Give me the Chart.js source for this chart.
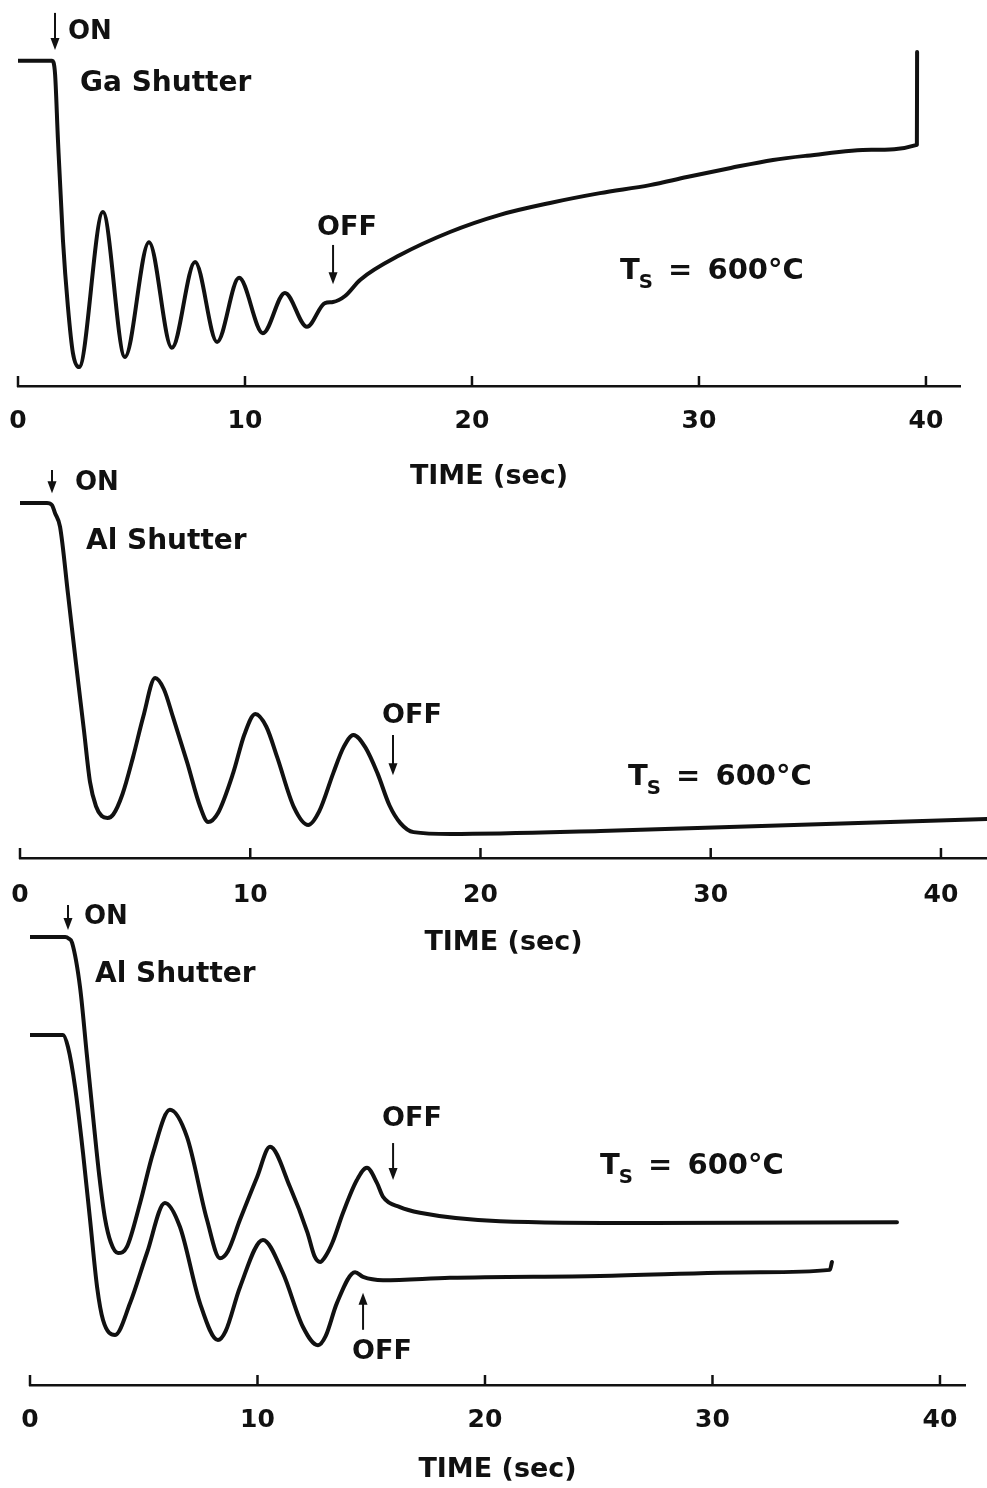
<!DOCTYPE html>
<html><head><meta charset="utf-8">
<script src="https://cdn.jsdelivr.net/npm/chart.js@4"></script>
<style>
body{margin:0;background:#fff;width:987px;height:1488px;position:relative;overflow:hidden;font-family:"DejaVu Sans",sans-serif;}
canvas{position:absolute;left:0;}
.t{position:absolute;font-weight:bold;color:#111;white-space:nowrap;line-height:1;transform:translate(0,-50%);}
.c{transform:translate(-50%,-50%);}
.t sub{font-size:0.68em;vertical-align:-0.45em;margin-left:-1px;}
</style></head><body>
<canvas id="c1" width="987" height="493" style="top:0px"></canvas>
<canvas id="c2" width="987" height="489" style="top:470px"></canvas>
<canvas id="c3" width="987" height="581" style="top:905px"></canvas>

<div class="t" style="left:68px;top:30px;font-size:26px">ON</div>
<div class="t" style="left:80px;top:82px;font-size:28px">Ga Shutter</div>
<div class="t c" style="left:347px;top:225px;font-size:27px">OFF</div>
<div class="t" style="left:620px;top:273px;font-size:29px;word-spacing:5px">T<sub>S</sub> = 600°C</div>

<div class="t" style="left:75px;top:481px;font-size:26px">ON</div>
<div class="t" style="left:86px;top:540px;font-size:28px">Al Shutter</div>
<div class="t c" style="left:412px;top:713px;font-size:27px">OFF</div>
<div class="t" style="left:628px;top:779px;font-size:29px;word-spacing:5px">T<sub>S</sub> = 600°C</div>

<div class="t" style="left:84px;top:915px;font-size:26px">ON</div>
<div class="t" style="left:95px;top:973px;font-size:28px">Al Shutter</div>
<div class="t c" style="left:412px;top:1116px;font-size:27px">OFF</div>
<div class="t" style="left:600px;top:1168px;font-size:29px;word-spacing:5px">T<sub>S</sub> = 600°C</div>
<div class="t c" style="left:382px;top:1349px;font-size:27px">OFF</div>

<script>
// ---- Data (time in s, intensity in arbitrary units) ----
const xTickValues = [0, 10, 20, 30, 40];

// Panel 1: Ga shutter
const timeGa = [0, 1.50, 1.63, 1.76, 1.98, 2.20, 2.42, 2.69, 3.74, 4.71, 5.77, 6.78, 7.80, 8.77, 9.74, 10.79, 11.76, 12.73, 13.52, 13.88, 14.41, 15.07, 16.83, 19.03, 21.23, 23.44, 25.64, 27.84, 29.47, 31.40, 33.26, 34.76, 37.60, 39.60, 39.61];
const intensityGa = [92.9, 92.9, 89.4, 70.3, 41.7, 22.6, 9.4, 5.4, 49.7, 8.3, 41.1, 10.9, 35.4, 12.6, 30.9, 15.1, 26.6, 16.9, 23.7, 24.0, 25.7, 30.3, 37.4, 44.0, 48.9, 52.3, 55.1, 57.4, 59.7, 62.3, 64.6, 65.8, 67.5, 68.9, 95.4];

// Panel 2: Al shutter
const timeAl = [0, 1.17, 1.39, 1.52, 1.74, 2.09, 2.43, 2.78, 3.04, 3.30, 3.55, 3.80, 4.05, 4.45, 4.91, 5.35, 5.87, 6.25, 6.65, 7.26, 7.83, 8.17, 8.60, 9.26, 9.75, 10.22, 10.70, 11.17, 11.90, 12.52, 13.00, 13.61, 14.05, 14.48, 15.00, 15.52, 16.05, 16.52, 17.09, 18.70, 25.22, 33.61, 42.0];
const intensityAl = [94.7, 94.7, 94.1, 92.0, 88.3, 70.1, 52.0, 33.9, 20.3, 13.8, 11.2, 10.7, 11.6, 17.0, 26.9, 37.6, 48.0, 45.0, 37.5, 25.5, 13.6, 9.6, 12.0, 22.7, 33.0, 38.4, 35.0, 26.9, 13.5, 8.8, 12.5, 22.7, 29.5, 32.8, 29.5, 22.7, 14.0, 9.3, 6.9, 6.4, 7.2, 8.8, 10.4];

// Panel 3: Al shutter, two runs
const timeUpper = [0, 1.55, 1.70, 1.85, 2.20, 2.50, 2.80, 3.05, 3.30, 3.55, 3.87, 4.26, 4.84, 5.41, 6.15, 6.90, 7.78, 8.35, 8.70, 9.23, 9.98, 10.55, 11.43, 12.20, 12.50, 12.75, 13.00, 13.30, 13.76, 14.37, 14.81, 15.25, 15.52, 16.26, 17.14, 20.66, 27.25, 38.11];
const intensityUpper = [95.7, 95.7, 95.4, 94.5, 85.0, 70.5, 56.0, 44.5, 35.5, 30.5, 28.2, 29.5, 38.9, 49.6, 58.8, 53.0, 35.3, 27.1, 28.6, 35.3, 44.4, 50.9, 42.3, 32.5, 27.6, 26.3, 27.6, 30.5, 36.8, 43.8, 46.4, 43.2, 40.2, 38.0, 36.8, 35.0, 34.6, 34.8];
const timeLower = [0, 1.45, 1.67, 1.98, 2.33, 2.64, 2.95, 3.21, 3.74, 4.40, 5.14, 5.93, 6.59, 7.47, 8.26, 8.60, 9.23, 10.24, 11.12, 12.00, 12.66, 13.00, 13.49, 14.29, 14.64, 15.52, 18.46, 25.05, 32.09, 35.16, 35.25];
const intensityLower = [74.8, 74.8, 72.2, 63.7, 49.6, 35.3, 20.9, 13.9, 10.7, 17.5, 28.2, 38.9, 33.8, 17.5, 9.6, 11.5, 20.9, 31.0, 23.9, 12.4, 8.5, 10.5, 17.5, 24.1, 23.1, 22.4, 22.9, 23.3, 24.1, 24.6, 26.3];

// Shutter event arrows (time, from-intensity, to-intensity)
const arrowsGa = [{t: 1.63, from: 106.6, to: 96.0}, {t: 13.88, from: 40.3, to: 29.1}];
const arrowsAl = [{t: 1.39, from: 107.5, to: 97.3}, {t: 16.2, from: 32.8, to: 22.1}];
const arrowsAl2 = [{t: 1.67, from: 105.1, to: 97.2}, {t: 15.96, from: 51.7, to: 43.8}, {t: 14.64, from: 11.8, to: 19.7}];

const INK = '#111';
const pts = (xs, ys) => xs.map((x, i) => ({x, y: ys[i]}));

const markPlugin = {
  id: 'marks',
  afterDraw(chart, args, opts) {
    const {ctx, scales: {x, y}} = chart;
    ctx.save();
    ctx.strokeStyle = INK; ctx.fillStyle = INK; ctx.lineWidth = 2.5;
    x.ticks.forEach(tk => {
      const px = x.getPixelForValue(tk.value);
      ctx.beginPath(); ctx.moveTo(px, x.top + 1); ctx.lineTo(px, x.top - opts.len); ctx.stroke();
    });
    ctx.lineWidth = 2;
    (opts.arrows || []).forEach(a => {
      const px = x.getPixelForValue(a.t);
      const y1 = y.getPixelForValue(a.from), y2 = y.getPixelForValue(a.to);
      const dir = y2 > y1 ? 1 : -1;
      ctx.beginPath(); ctx.moveTo(px, y1); ctx.lineTo(px, y2 - dir * 8); ctx.stroke();
      ctx.beginPath(); ctx.moveTo(px - 4.5, y2 - dir * 12); ctx.lineTo(px + 4.5, y2 - dir * 12); ctx.lineTo(px, y2); ctx.closePath(); ctx.fill();
    });
    ctx.restore();
  }
};

function makeChart(id, datasets, cfg) {
  return new Chart(document.getElementById(id), {
    type: 'line',
    data: {datasets},
    options: {
      responsive: false, animation: false, devicePixelRatio: 1,
      layout: {padding: {left: cfg.left, right: cfg.right, top: cfg.top, bottom: 0}},
      plugins: {legend: {display: false}, tooltip: {enabled: false}, marks: {len: 10, arrows: cfg.arrows}},
      elements: {point: {radius: 0}, line: {borderWidth: 4, borderColor: INK, cubicInterpolationMode: 'monotone', borderCapStyle: 'round', borderJoinStyle: 'round'}},
      scales: {
        x: {
          type: 'linear', min: 0, max: cfg.max,
          afterBuildTicks: s => { s.ticks = xTickValues.map(v => ({value: v})); },
          grid: {display: false, drawTicks: false},
          border: {display: true, color: INK, width: 2.5},
          ticks: {stepSize: 10, includeBounds: false, padding: 8, color: INK, maxRotation: 0, autoSkip: false,
                  font: {family: 'DejaVu Sans', weight: 'bold', size: 25, lineHeight: cfg.lh}},
          title: {display: true, text: 'TIME (sec)', color: INK, font: {family: 'DejaVu Sans', weight: 'bold', size: 27},
                  padding: {top: cfg.titlePad, bottom: 0}}
        },
        y: {display: false, min: 0, max: 100}
      }
    },
    plugins: [markPlugin]
  });
}

makeChart('c1', [{data: pts(timeGa, intensityGa)}], {left: 18, right: 27, top: 36, max: 41.5, lh: 2.16, titlePad: 4.6, arrows: arrowsGa});
makeChart('c2', [{data: pts(timeAl, intensityAl)}], {left: 20, right: 0, top: 13, max: 42.0, lh: 2.32, titlePad: -5.4, arrows: arrowsAl});
makeChart('c3', [{data: pts(timeUpper, intensityUpper)}, {data: pts(timeLower, intensityLower)}], {left: 30, right: 22, top: 12, max: 41.1, lh: 2.16, titlePad: -1.4, arrows: arrowsAl2});
</script>
</body></html>
